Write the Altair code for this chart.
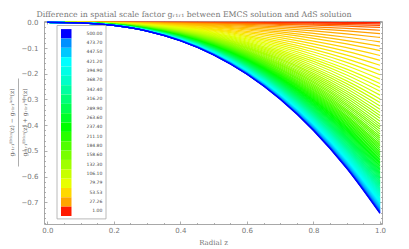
import altair as alt
import pandas as pd
import numpy as np

# radial grid and common curve shape (fraction of the z = 1 value reached at each z)
z_grid = [0.0, 0.1, 0.2, 0.3, 0.4, 0.5, 0.6, 0.7, 0.8, 0.9, 1.0]
profile = [0.0, 0.0028, 0.0165, 0.0464, 0.0966, 0.1708, 0.2719, 0.4027, 0.5661, 0.7643, 1.0]

# value of each curve at z = 1 (curve 0: parameter 1, last curve: parameter 500)
end_values = [
    -0.001, -0.006, -0.012, -0.020, -0.031, -0.044, -0.059, -0.076, -0.093, -0.110,
    -0.129, -0.148, -0.167, -0.186, -0.204, -0.221, -0.238, -0.253, -0.268, -0.283,
    -0.298, -0.312, -0.325, -0.338, -0.351, -0.362, -0.373, -0.385, -0.396, -0.406,
    -0.415, -0.425, -0.434, -0.443, -0.451, -0.459, -0.467, -0.475, -0.482, -0.489,
    -0.496, -0.503, -0.510, -0.517, -0.523, -0.530, -0.536, -0.542, -0.548, -0.553,
    -0.559, -0.565, -0.570, -0.575, -0.581, -0.586, -0.591, -0.596, -0.601, -0.606,
    -0.611, -0.616, -0.620, -0.625, -0.629, -0.634, -0.638, -0.643, -0.647, -0.651,
    -0.655, -0.659, -0.663, -0.667, -0.671, -0.675, -0.678, -0.682, -0.686, -0.689,
    -0.692, -0.696, -0.699, -0.702, -0.705, -0.708, -0.711, -0.714, -0.717, -0.720,
    -0.722, -0.725, -0.727, -0.730, -0.732, -0.734, -0.737, -0.739, -0.741, -0.743,
]
param_min, param_max = 1.0, 500.0

legend_labels = ["500.00", "473.70", "447.50", "421.20", "394.90", "368.70", "342.40",
                 "316.20", "289.90", "263.60", "237.40", "211.10", "184.80", "158.60",
                 "132.30", "106.10", "79.79", "53.53", "27.26", "1.00"]
legend_values = [500.0, 473.7, 447.5, 421.2, 394.9, 368.7, 342.4, 316.2, 289.9, 263.6,
                 237.4, 211.1, 184.8, 158.6, 132.3, 106.1, 79.79, 53.53, 27.26, 1.0]
color_stops = legend_values[::-1]
color_range = ["#ff1a00", "#ffa500", "#ffd800", "#e8ff00", "#c8ff00", "#a0ff00", "#78ff00",
               "#50ff00", "#28ff00", "#00ff00", "#00ff28", "#00ff50", "#00ff78", "#00ffa0",
               "#00ffc8", "#00ffe6", "#00ffff", "#00c8ff", "#0090ff", "#0000ff"]

x_major = [0.0, 0.2, 0.4, 0.6, 0.8, 1.0]
x_minor = [0.05, 0.1, 0.15, 0.25, 0.3, 0.35, 0.45, 0.5, 0.55, 0.65, 0.7, 0.75,
           0.85, 0.9, 0.95]
y_major = [0.0, -0.1, -0.2, -0.3, -0.4, -0.5, -0.6, -0.7]
y_minor = [-0.02, -0.04, -0.06, -0.08, -0.12, -0.14, -0.16, -0.18, -0.22, -0.24, -0.26,
           -0.28, -0.32, -0.34, -0.36, -0.38, -0.42, -0.44, -0.46, -0.48, -0.52, -0.54,
           -0.56, -0.58, -0.62, -0.64, -0.66, -0.68, -0.72, -0.74, -0.76, -0.78]

title_text = "Difference in spatial scale factor gᵣ₁ᵣ₁ between EMCS solution and AdS solution"
ylab_num = "gᵣ₁ᵣ₁ᴱᴹᶜˢ(z) − gᵣ₁ᵣ₁ᴬᵈˢ(z)"
ylab_den = "gᵣ₁ᵣ₁ᴱᴹᶜˢ(z) + gᵣ₁ᵣ₁ᴬᵈˢ(z)"

n = len(end_values)
params = np.linspace(param_min, param_max, n)
rows = []
for k in range(n):
    for zi, pi in zip(z_grid, profile):
        rows.append({"k": k, "lam": float(params[k]), "z": zi, "v": end_values[k] * pi})
df = pd.DataFrame(rows)

W, H = 338, 203
TICK = "#9a9a9a"
color_scale = alt.Scale(domain=color_stops, range=color_range, interpolate="rgb")
xs = alt.Scale(domain=[-0.01, 1.006], nice=False, zero=False)


def ys():
    return alt.Scale(domain=[-0.784, 0.005], nice=False, zero=False)


lines = alt.Chart(df).mark_line(strokeWidth=1.2, interpolate="monotone", clip=True).encode(
    x=alt.X("z:Q", scale=xs,
            axis=alt.Axis(values=x_major, format=".1f", title="Radial z",
                          domain=False, grid=False, offset=-3, tickSize=3, tickColor=TICK,
                          tickWidth=0.8, labelPadding=2, labelFont="DejaVu Sans",
                          labelFontSize=7, labelColor="#777", titleFont="DejaVu Serif",
                          titleFontSize=7, titleFontWeight="normal", titleColor="#777",
                          titlePadding=5)),
    y=alt.Y("v:Q", scale=ys(),
            axis=alt.Axis(values=y_major, format=".1f", title=None, domain=False,
                          grid=False, offset=-3, tickSize=3, tickColor=TICK, tickWidth=0.8,
                          labelPadding=6, labelFont="DejaVu Sans", labelFontSize=7,
                          labelColor="#777")),
    color=alt.Color("lam:Q", scale=color_scale, legend=None),
    detail="k:O",
)


def tick_layer(xvals, xorient, yvals, yorient, size):
    base = dict(labels=False, domain=False, grid=False, title=None, tickColor=TICK,
                tickWidth=0.8, tickSize=size, offset=-size)
    return alt.Chart(df.head(1)).mark_point(opacity=0).encode(
        x=alt.X("z:Q", scale=xs, axis=alt.Axis(values=xvals, orient=xorient, **base)),
        y=alt.Y("v:Q", scale=ys(), axis=alt.Axis(values=yvals, orient=yorient, **base)),
    )


minor_bl = tick_layer(x_minor, "bottom", y_minor, "left", 1.5)
major_tr = tick_layer(x_major, "top", y_major, "right", 3)
minor_tr = tick_layer(x_minor, "top", y_minor, "right", 1.5)

leg_df = pd.DataFrame({"idx": list(range(len(legend_labels))), "label": legend_labels,
                       "lam": legend_values})
frame = alt.Chart(pd.DataFrame({"a": [0]})).mark_rect(
    fill="white", stroke="#a8a8a8", strokeWidth=0.8).encode(
    x=alt.value(13), x2=alt.value(62), y=alt.value(4.5), y2=alt.value(197.9))
band = alt.Scale(range=[8.1, 195.0], paddingInner=0, paddingOuter=0)
swatches = alt.Chart(leg_df).mark_rect().encode(
    y=alt.Y("idx:O", scale=band, axis=None),
    x=alt.value(17), x2=alt.value(27.5),
    color=alt.Color("lam:Q", scale=color_scale, legend=None),
)
labels = alt.Chart(leg_df).mark_text(align="right", baseline="middle", fontSize=4.5,
                                     font="DejaVu Sans", color="#444").encode(
    y=alt.Y("idx:O", scale=band, axis=None),
    x=alt.value(58.3),
    text="label:N",
)

num = alt.Chart(pd.DataFrame({"t": [ylab_num]})).mark_text(
    angle=270, fontSize=6, font="DejaVu Serif", color="#666", baseline="middle").encode(
    x=alt.value(-32), y=alt.value(H / 2), text="t:N")
den = alt.Chart(pd.DataFrame({"t": [ylab_den]})).mark_text(
    angle=270, fontSize=6, font="DejaVu Serif", color="#666", baseline="middle").encode(
    x=alt.value(-19), y=alt.value(H / 2), text="t:N")
bar = alt.Chart(pd.DataFrame({"a": [0]})).mark_rule(color="#777", strokeWidth=0.6).encode(
    x=alt.value(-25.5), y=alt.value(H / 2 - 44), y2=alt.value(H / 2 + 44))

chart = alt.layer(lines, minor_bl, major_tr, minor_tr, frame, swatches, labels, num, den,
                  bar).resolve_scale(y="independent").resolve_axis(
    x="independent", y="independent"
).properties(
    width=W, height=H,
    title=alt.TitleParams(title_text, font="DejaVu Serif", fontSize=7.8, fontWeight="normal",
                          color="#777", anchor="middle", dx=-19, dy=3.5, offset=3,
                          frame="group"),
    autosize=alt.AutoSizeParams(type="none"),
    padding={"left": 36, "top": 13, "right": 19, "bottom": 25},
).configure_view(stroke="#a8a8a8", strokeWidth=1)

chart.save("out.html", embed_options={"renderer": "svg", "actions": False})
